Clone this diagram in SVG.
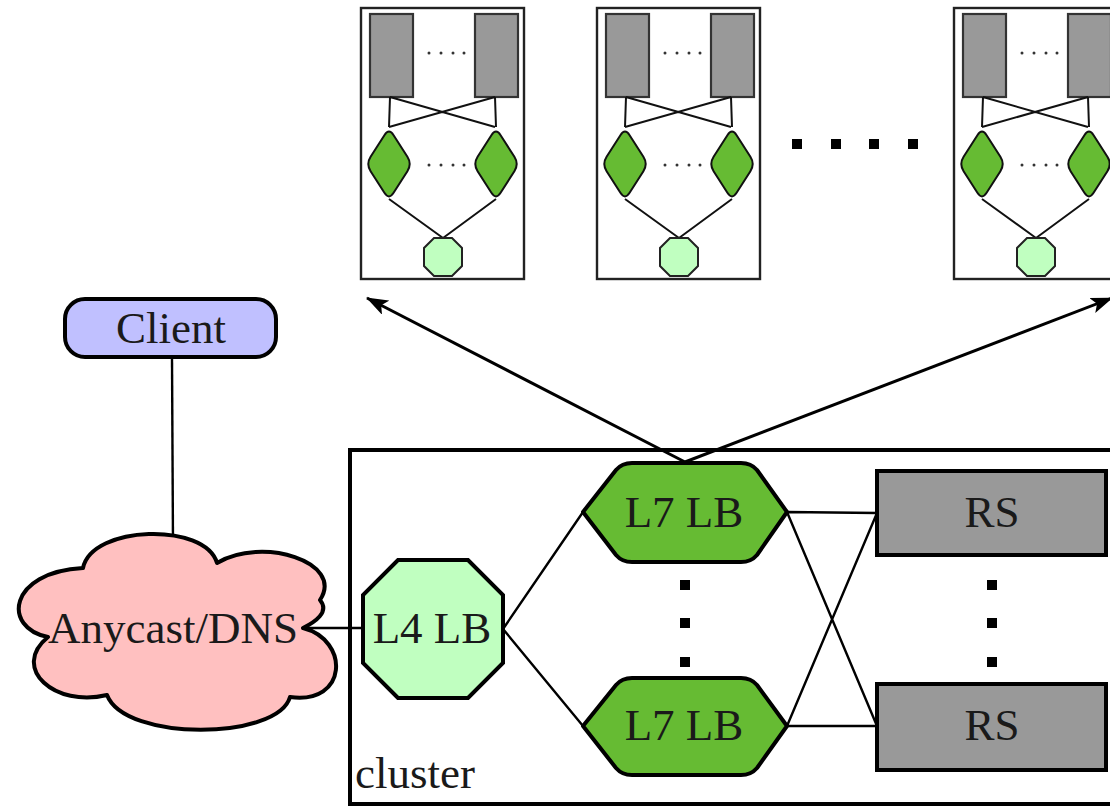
<svg xmlns="http://www.w3.org/2000/svg" width="1110" height="806" viewBox="0 0 1110 806">
  <style>
    .lbl { font-family: "Liberation Serif", "Times New Roman", serif; font-size: 45px; fill: #1a1a1a; text-anchor: middle; }
    .wire { stroke: #000; stroke-width: 2.4; fill: none; }
    .thin { stroke: #111; stroke-width: 2; fill: none; }
    .panel { fill: #fff; stroke: #222; stroke-width: 2.4; }
    .srv { fill: #999; stroke: #333; stroke-width: 2.2; }
    .l7s { fill: #66bb33; stroke: #111; stroke-width: 2; stroke-linejoin: round; }
    .l4s { fill: #c0ffc0; stroke: #222; stroke-width: 2; }
    .dot { fill: #333; }
    .sq { fill: #000; }
  </style>
  <defs>
    <marker id="arrow" viewBox="0 0 22 16" refX="21" refY="8" markerWidth="22" markerHeight="16" markerUnits="userSpaceOnUse" orient="auto">
      <path d="M0,0 L22,8 L0,16 L5,8 Z" fill="#000"/>
    </marker>
    <!-- one cluster replica: servers, L7 balancers, L4 balancer -->
    <g id="replica">
      <rect class="panel" x="361" y="8" width="163" height="271"/>
      <rect class="srv" x="370" y="14" width="43" height="83"/>
      <rect class="srv" x="475" y="14" width="43" height="83"/>
      <circle class="dot" cx="429" cy="53" r="1.5"/>
      <circle class="dot" cx="441" cy="53" r="1.5"/>
      <circle class="dot" cx="453" cy="53" r="1.5"/>
      <circle class="dot" cx="464" cy="53" r="1.5"/>
      <path class="thin" d="M390,97 L495,127 M495,97 L389,127 M390,97 L389,127 M495,97 L496,127"/>
      <path class="l7s" d="M393.6,135.2 L407.4,156.8 Q412,164 407.4,171.2 L393.6,192.8 Q389,200 384.4,192.8 L370.6,171.2 Q366,164 370.6,156.8 L384.4,135.2 Q389,128 393.6,135.2 Z"/>
      <path class="l7s" d="M500.6,135.2 L514.4,156.8 Q519,164 514.4,171.2 L500.6,192.8 Q496,200 491.4,192.8 L477.6,171.2 Q473,164 477.6,156.8 L491.4,135.2 Q496,128 500.6,135.2 Z"/>
      <circle class="dot" cx="429" cy="165" r="1.5"/>
      <circle class="dot" cx="441" cy="165" r="1.5"/>
      <circle class="dot" cx="453" cy="165" r="1.5"/>
      <circle class="dot" cx="464" cy="165" r="1.5"/>
      <path class="thin" d="M389,199 L443,238 M496,199 L443,238"/>
      <polygon class="l4s" points="434,238 452,238 462,248 462,266 452,276 434,276 424,266 424,248"/>
    </g>
  </defs>

  <!-- replicas along the top -->
  <g id="replica-1"><use href="#replica"/></g>
  <g id="replica-2"><use href="#replica" transform="translate(236,0)"/></g>
  <g id="replica-3"><use href="#replica" transform="translate(593,0)"/></g>
  <g id="replica-gap">
    <rect class="sq" x="792" y="139" width="10" height="10"/>
    <rect class="sq" x="831" y="139" width="10" height="10"/>
    <rect class="sq" x="869" y="139" width="10" height="10"/>
    <rect class="sq" x="908" y="139" width="10" height="10"/>
  </g>

  <!-- cluster frame -->
  <g id="cluster">
    <rect x="350" y="450" width="800" height="354" fill="none" stroke="#000" stroke-width="4"/>
    <text class="lbl" x="355" y="788" style="text-anchor:start">cluster</text>
  </g>

  <!-- connectors -->
  <g id="connectors">
    <path class="wire" d="M172,359 L173,545"/>
    <path class="wire" d="M305,628 L363,628"/>
    <path class="wire" d="M503,629 L583,512 M503,629 L583,726"/>
    <path class="wire" d="M787,512 L877,513 M787,726 L877,726 M787,512 L877,726 M787,726 L877,513"/>
    <path stroke="#000" stroke-width="3" fill="none" marker-end="url(#arrow)" d="M685,462 L367,298"/>
    <path stroke="#000" stroke-width="3" fill="none" marker-end="url(#arrow)" d="M685,462 L1112,298"/>
  </g>

  <g id="client">
    <rect x="65" y="299" width="211" height="58" rx="20" fill="#c0c0ff" stroke="#000" stroke-width="4"/>
    <text class="lbl" x="171" y="343">Client</text>
  </g>

  <g id="anycast">
    <path d="M48,637 C2,628 8,572 83,568 C92,525 205,522 217,563 C262,536 345,562 320,600 C330,612 315,622 303,628 C350,640 348,705 290,697 C278,740 125,742 107,695 C55,708 10,668 48,637 Z" fill="#ffc0c0" stroke="#000" stroke-width="4" stroke-linejoin="round"/>
    <text class="lbl" x="173" y="643">Anycast/DNS</text>
  </g>

  <g id="l4lb">
    <polygon points="398,560 468,560 503,595 503,663 468,698 398,698 363,663 363,595" fill="#c0ffc0" stroke="#000" stroke-width="4"/>
    <text class="lbl" x="432" y="643">L4 LB</text>
  </g>

  <g id="l7lb-1">
    <path d="M583,512 L616,470 Q622,463 632,463 L741,463 Q751,463 757,470 L787,512 L757,555 Q751,562 741,562 L632,562 Q622,562 616,555 Z" fill="#66bb33" stroke="#000" stroke-width="4" stroke-linejoin="round"/>
    <text class="lbl" x="684" y="527">L7 LB</text>
  </g>

  <g id="l7lb-2">
    <path d="M583,726 L616,685 Q622,678 632,678 L741,678 Q751,678 757,685 L787,726 L757,768 Q751,775 741,775 L632,775 Q622,775 616,768 Z" fill="#66bb33" stroke="#000" stroke-width="4" stroke-linejoin="round"/>
    <text class="lbl" x="684" y="740">L7 LB</text>
  </g>

  <g id="l7-gap">
    <rect class="sq" x="680" y="580" width="10" height="10"/>
    <rect class="sq" x="680" y="618" width="10" height="10"/>
    <rect class="sq" x="680" y="657" width="10" height="10"/>
  </g>

  <g id="rs-1">
    <rect x="877" y="471" width="229" height="84" fill="#999" stroke="#000" stroke-width="4"/>
    <text class="lbl" x="992" y="527">RS</text>
  </g>

  <g id="rs-2">
    <rect x="877" y="684" width="229" height="86" fill="#999" stroke="#000" stroke-width="4"/>
    <text class="lbl" x="992" y="740">RS</text>
  </g>

  <g id="rs-gap">
    <rect class="sq" x="987" y="580" width="10" height="10"/>
    <rect class="sq" x="987" y="618" width="10" height="10"/>
    <rect class="sq" x="987" y="657" width="10" height="10"/>
  </g>
</svg>
